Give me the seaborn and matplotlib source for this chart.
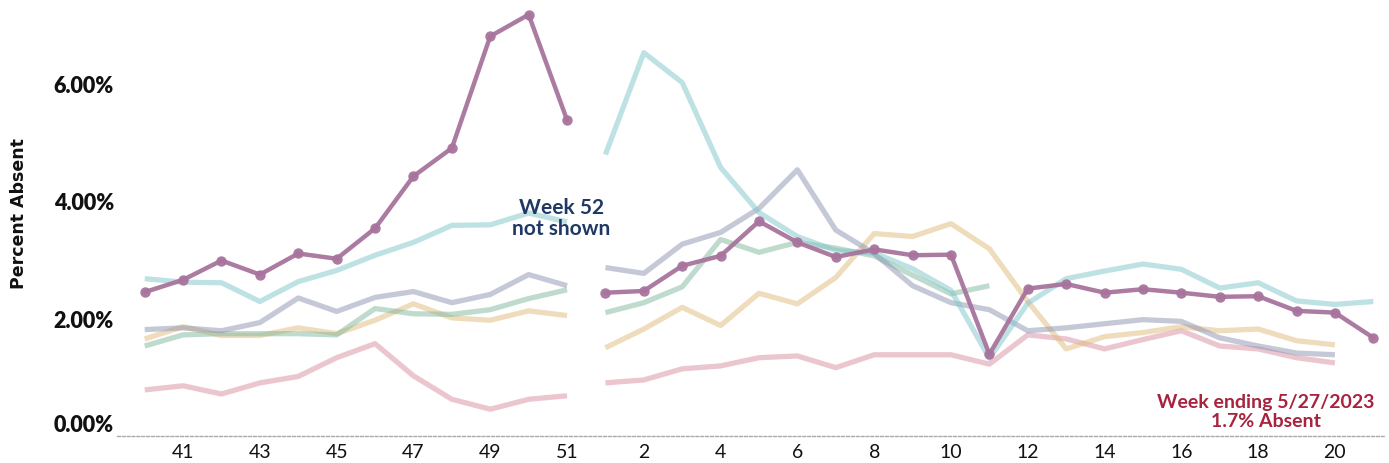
import numpy as np
import pandas as pd
import matplotlib
matplotlib.use("Agg")
import matplotlib.pyplot as plt
import seaborn as sns

nan = np.nan

# Week categories (week 52 not shown -> line break between 51 and 1)
weeks = [40, 41, 42, 43, 44, 45, 46, 47, 48, 49, 50, 51,
         1, 2, 3, 4, 5, 6, 7, 8, 9, 10, 11, 12, 13, 14, 15, 16, 17, 18, 19, 20, 21]
segment = ["fall"] * 12 + ["spring"] * 21

tick_weeks = [41, 43, 45, 47, 49, 51, 2, 4, 6, 8, 10, 12, 14, 16, 18, 20]
tick_labels = ["41", "43", "45", "47", "49", "51", "2", "4", "6", "8", "10",
               "12", "14", "16", "18", "20"]
y_ticks = [0, 2, 4, 6]

# Percent absent, highlighted series
current = [2.46, 2.67, 3.00, 2.76, 3.12, 3.03, 3.55, 4.44, 4.92, 6.83, 7.20, 5.40,
           2.45, 2.48, 2.91, 3.08, 3.67, 3.31, 3.06, 3.19, 3.09, 3.10, 1.40, 2.52,
           2.60, 2.45, 2.51, 2.45, 2.38, 2.39, 2.14, 2.11, 1.68]
# Comparison series (faded)
cyan = [2.69, 2.63, 2.62, 2.30, 2.64, 2.83, 3.09, 3.31, 3.60, 3.61, 3.81, 3.66,
        4.81, 6.55, 6.04, 4.59, 3.82, 3.41, 3.17, 3.13, 2.86, 2.49, 1.33, 2.27,
        2.69, 2.82, 2.94, 2.85, 2.53, 2.62, 2.31, 2.25, 2.30]
grey = [1.82, 1.85, 1.80, 1.94, 2.36, 2.13, 2.37, 2.47, 2.28, 2.42, 2.76, 2.57,
        2.88, 2.78, 3.28, 3.48, 3.89, 4.55, 3.52, 3.12, 2.57, 2.28, 2.16, 1.80,
        1.85, 1.92, 1.99, 1.96, 1.68, 1.54, 1.42, 1.39, nan]
green = [1.54, 1.73, 1.75, 1.75, 1.75, 1.73, 2.18, 2.09, 2.08, 2.16, 2.35, 2.50,
         2.11, 2.28, 2.55, 3.36, 3.14, 3.31, 3.21, 3.08, 2.75, 2.43, 2.57, nan,
         nan, nan, nan, nan, nan, nan, nan, nan, nan]
tan = [1.66, 1.87, 1.72, 1.72, 1.85, 1.75, 1.98, 2.26, 2.02, 1.98, 2.14, 2.06,
       1.51, 1.83, 2.20, 1.89, 2.44, 2.26, 2.71, 3.46, 3.41, 3.63, 3.20, 2.30,
       1.49, 1.70, 1.77, 1.87, 1.80, 1.83, 1.63, 1.56, nan]
pink = [0.79, 0.86, 0.72, 0.91, 1.02, 1.34, 1.58, 1.03, 0.63, 0.46, 0.63, 0.69,
        0.91, 0.96, 1.15, 1.20, 1.34, 1.37, 1.17, 1.39, 1.39, 1.39, 1.23, 1.73,
        1.66, 1.49, 1.65, 1.80, 1.54, 1.49, 1.34, 1.25, nan]

faded = {"pink": pink, "tan": tan, "green": green, "grey": grey, "cyan": cyan}
faded_colors = {"pink": "#d98ea0", "tan": "#e0bb7a", "green": "#80b89c",
                "grey": "#8d93b0", "cyan": "#7fc7cb"}

pos = list(range(len(weeks)))
week_to_pos = {(w, s): p for p, w, s in zip(pos, weeks, segment)}

rows = []
for name, vals in faded.items():
    for p, s, v in zip(pos, segment, vals):
        if not np.isnan(v):
            rows.append({"pos": p, "seg": s, "series": name, "value": v})
df_faded = pd.DataFrame(rows)
df_cur = pd.DataFrame({"pos": pos, "seg": segment, "value": current})

sns.set_theme(style="white")
plt.rcParams["font.family"] = ["Lato", "DejaVu Sans"]

fig = plt.figure(figsize=(13.89, 4.63), dpi=100)
ax = fig.add_axes([0.084, 0.058, 0.913, 0.942])

sns.lineplot(data=df_faded, x="pos", y="value", hue="series", units="seg",
             estimator=None, palette=faded_colors, hue_order=list(faded.keys()),
             linewidth=3.8, alpha=0.5, legend=False, ax=ax,
             solid_capstyle="butt")
sns.lineplot(data=df_cur, x="pos", y="value", units="seg", estimator=None,
             color="#a8749d", linewidth=3.2, marker="o", markersize=7.5,
             markeredgewidth=0, alpha=0.95, legend=False, ax=ax)

ax.set_xlim(-0.73, 32.3)
ax.set_ylim(0, 7.45)

tick_pos = []
for i, w in enumerate(tick_weeks):
    seg = "fall" if i < 6 else "spring"
    tick_pos.append(week_to_pos[(w, seg)])
ax.set_xticks(tick_pos)
ax.set_xticklabels(tick_labels, fontsize=14)
ax.set_yticks(y_ticks)
ax.set_yticklabels([f"{v:.2f}%" for v in y_ticks], fontsize=15.5,
                   fontweight="heavy")
ax.tick_params(axis="both", length=0, colors="#111111")
ax.tick_params(axis="x", pad=6)
ax.tick_params(axis="y", pad=2)
for lbl in ax.get_yticklabels():
    if lbl.get_text() == "0.00%":
        lbl.set_va("bottom")

for sp in ["top", "right", "left"]:
    ax.spines[sp].set_visible(False)
ax.spines["bottom"].set_visible(True)
ax.spines["bottom"].set_color("#aaaaaa")
ax.spines["bottom"].set_linestyle((0, (2, 1.5)))
ax.spines["bottom"].set_linewidth(1.0)

ax.set_xlabel("")
ax.set_ylabel("Percent Absent", fontsize=12.5, fontweight="bold",
              family="DejaVu Sans", color="#111111")
ax.yaxis.set_label_coords(-0.070, 0.51)

ax.text(10.85, 3.72, "Week 52\nnot shown", ha="center", va="center",
        fontsize=15, fontweight="bold", color="#1f3864", linespacing=1.1)
ax.text(29.2, 0.41, "Week ending 5/27/2023\n1.7% Absent", ha="center",
        va="center", fontsize=14, fontweight="bold", color="#a8233e",
        linespacing=1.1)

fig.savefig("out.png", dpi=100)
